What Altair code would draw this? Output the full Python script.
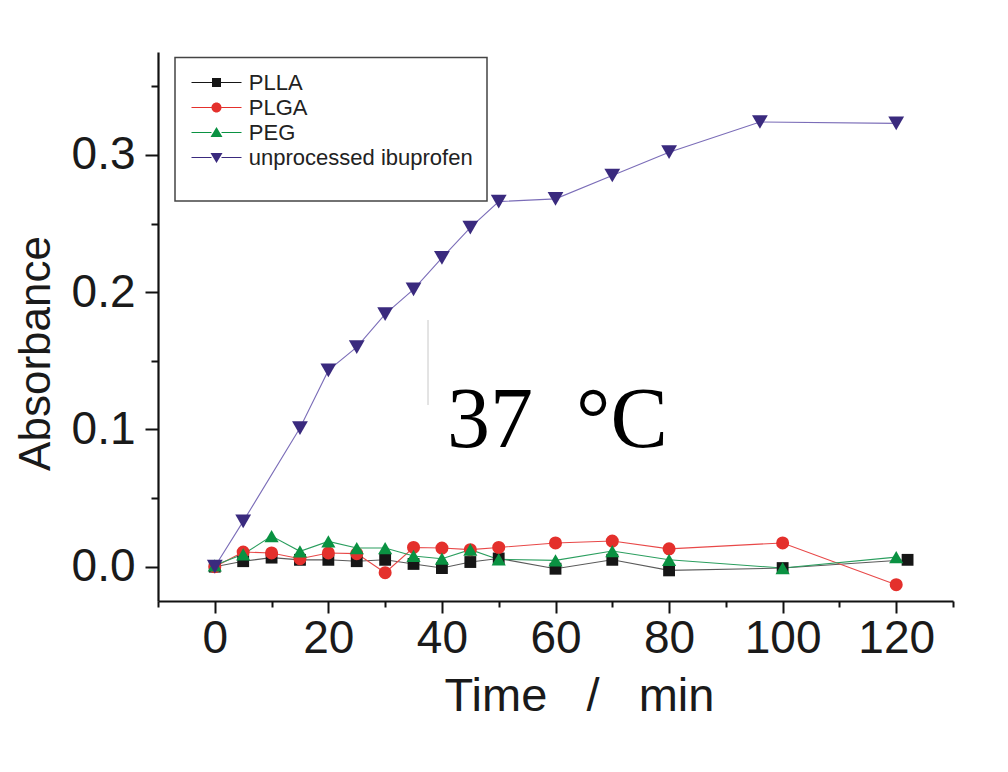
import altair as alt
import pandas as pd

# ---------------- data ----------------
series_names = ["PLLA", "PLGA", "PEG", "unprocessed ibuprofen"]

plla_time = [0, 5, 10, 15, 20, 25, 30, 35, 40, 45, 50, 60, 70, 80, 100, 122]
plla_abs = [0.0, 0.004, 0.0066, 0.005, 0.005, 0.004, 0.005, 0.002, -0.001, 0.0034,
            0.006, -0.0015, 0.005, -0.0027, -0.001, 0.005]

plga_time = [0, 5, 10, 15, 20, 25, 30, 35, 40, 45, 50, 60, 70, 80, 100, 120]
plga_abs = [0.0, 0.0107, 0.010, 0.0058, 0.010, 0.0095, -0.0044, 0.014, 0.0136, 0.0124,
            0.014, 0.0173, 0.0187, 0.013, 0.0173, -0.0131]

peg_time = [0, 5, 10, 15, 20, 25, 30, 35, 40, 45, 50, 60, 70, 80, 100, 120]
peg_abs = [0.001, 0.009, 0.0223, 0.0112, 0.0184, 0.0136, 0.0136, 0.0078, 0.0058, 0.0124,
           0.0053, 0.0046, 0.0114, 0.005, -0.001, 0.007]

ibu_time = [0, 5, 15, 20, 25, 30, 35, 40, 45, 50, 60, 70, 80, 96, 120]
ibu_abs = [0.0, 0.033, 0.101, 0.143, 0.160, 0.184, 0.202, 0.225, 0.247, 0.266,
           0.268, 0.285, 0.302, 0.324, 0.323]

x_major_ticks = [0, 20, 40, 60, 80, 100, 120]
x_minor_ticks = [-10, 10, 30, 50, 70, 90, 110, 130]
y_major_ticks = [0.0, 0.1, 0.2, 0.3]
y_minor_ticks = [0.05, 0.15, 0.25, 0.35]

marker_colors = ["#161616", "#e4302c", "#0a9242", "#3a2a7e"]
line_colors = ["#5a5a5a", "#e84848", "#2a9e5e", "#7b6db8"]
marker_shapes = ["square", "circle", "triangle-up", "triangle-down"]
marker_sizes = [140, 170, 200, 250]

legend_paths = [
    "M-2.5,-0.05H-0.45V0.05H-2.5Z M0.45,-0.05H2.5V0.05H0.45Z M-0.45,-0.45H0.45V0.45H-0.45Z",
    "M-2.5,-0.05H-0.5V0.05H-2.5Z M0.5,-0.05H2.5V0.05H0.5Z M0.5,0 A0.5,0.5 0 1,1 -0.5,0 A0.5,0.5 0 1,1 0.5,0Z",
    "M-2.5,-0.05H-0.5V0.05H-2.5Z M0.5,-0.05H2.5V0.05H0.5Z M0,-0.55L0.6,0.45H-0.6Z",
    "M-2.5,-0.05H-0.5V0.05H-2.5Z M0.5,-0.05H2.5V0.05H0.5Z M-0.6,-0.45H0.6L0,0.55Z",
]

series_data = [
    (plla_time, plla_abs),
    (plga_time, plga_abs),
    (peg_time, peg_abs),
    (ibu_time, ibu_abs),
]

# ---------------- scales / axes ----------------
FONT = "Liberation Sans"
xscale = alt.Scale(domain=[-10, 130], nice=False, zero=False)
yscale = alt.Scale(domain=[-0.025, 0.375], nice=False, zero=False)

common_axis = dict(grid=False, domainColor="#111111", domainWidth=2.2,
                   tickColor="#111111", tickWidth=2, labelFont=FONT,
                   labelColor="#1a1a1a", labelFontSize=46, titleFont=FONT,
                   titleColor="#1a1a1a", titleFontWeight="normal")

x_major_axis = alt.Axis(orient="bottom", values=x_major_ticks, format="d", tickSize=12,
                        labelPadding=3, titleFontSize=47,
                        title="Time\u00a0\u00a0\u00a0/\u00a0\u00a0\u00a0min",
                        titleX=421, titleY=109, titleBaseline="alphabetic",
                        titleAlign="center", **common_axis)
x_minor_axis = alt.Axis(orient="bottom", values=x_minor_ticks, tickSize=6, labels=False,
                        domain=False, title="", **common_axis)
y_major_axis = alt.Axis(orient="left", values=y_major_ticks, format=".1f", tickSize=13,
                        labelPadding=10, title="Absorbance", titleFontSize=44,
                        titleX=-109, titleY=301,
                        titleBaseline="alphabetic", titleAlign="center", titleAngle=270,
                        **common_axis)
y_minor_axis = alt.Axis(orient="left", values=y_minor_ticks, tickSize=7, labels=False,
                        domain=False, title="", **common_axis)

layers = []
# lines
for i, (t, a) in enumerate(series_data):
    df = pd.DataFrame({"time": t, "absorbance": a})
    xa = x_major_axis if i == 3 else None
    ya = y_major_axis if i == 3 else None
    layers.append(
        alt.Chart(df).mark_line(color=line_colors[i], strokeWidth=1.1).encode(
            x=alt.X("time:Q", scale=xscale, axis=xa),
            y=alt.Y("absorbance:Q", scale=yscale, axis=ya),
        )
    )
# points
for i, (t, a) in enumerate(series_data):
    df = pd.DataFrame({"time": t, "absorbance": a})
    xa = x_minor_axis if i == 3 else None
    ya = y_minor_axis if i == 3 else None
    layers.append(
        alt.Chart(df).mark_point(filled=True, opacity=1, shape=marker_shapes[i],
                                 size=marker_sizes[i], color=marker_colors[i]).encode(
            x=alt.X("time:Q", scale=xscale, axis=xa),
            y=alt.Y("absorbance:Q", scale=yscale, axis=ya),
        )
    )

one = alt.Data(values=[{"k": 1}])

# legend frame
layers.append(
    alt.Chart(one).mark_rect(fill="white", fillOpacity=0, stroke="#444444", strokeWidth=1.5).encode(
        x=alt.value(17), x2=alt.value(329), y=alt.value(5.6), y2=alt.value(149)
    )
)
# faint vertical line artifact
layers.append(
    alt.Chart(one).mark_rule(color="#c8c8c8", strokeWidth=1).encode(
        x=alt.value(270), y=alt.value(268), y2=alt.value(353)
    )
)
# temperature annotation
layers.append(
    alt.Chart(one).mark_text(text="37\u00a0\u00a0°C", font="Liberation Serif", fontSize=86,
                             align="left", baseline="alphabetic", color="#000000").encode(
        x=alt.value(289), y=alt.value(395)
    )
)

# legend-only layer
legend_df = pd.DataFrame({"series": series_names})
leg = alt.Legend(orient="none", legendX=30, legendY=19.5, padding=0, symbolSize=400,
                 symbolOffset=17.5, labelOffset=21.3, labelFontSize=22, labelFont=FONT,
                 labelColor="#222222", rowPadding=3, labelLimit=400, title=None,
                 symbolStrokeWidth=0)
layers.append(
    alt.Chart(legend_df).mark_point(filled=True, opacity=1).encode(
        color=alt.Color("series:N", scale=alt.Scale(domain=series_names, range=marker_colors),
                        legend=leg, sort=series_names),
        shape=alt.Shape("series:N", scale=alt.Scale(domain=series_names, range=legend_paths),
                        legend=leg, sort=series_names),
    ).transform_filter("false")
)

chart = alt.layer(*layers).resolve_axis(x="independent", y="independent").properties(
    width=795, height=549,
    autosize=alt.AutoSizeParams(type="none"),
    padding={"left": 150, "top": 44, "right": 40, "bottom": 150},
).configure_view(stroke=None)

chart.save("out.html", embed_options={"renderer": "svg", "actions": False})
